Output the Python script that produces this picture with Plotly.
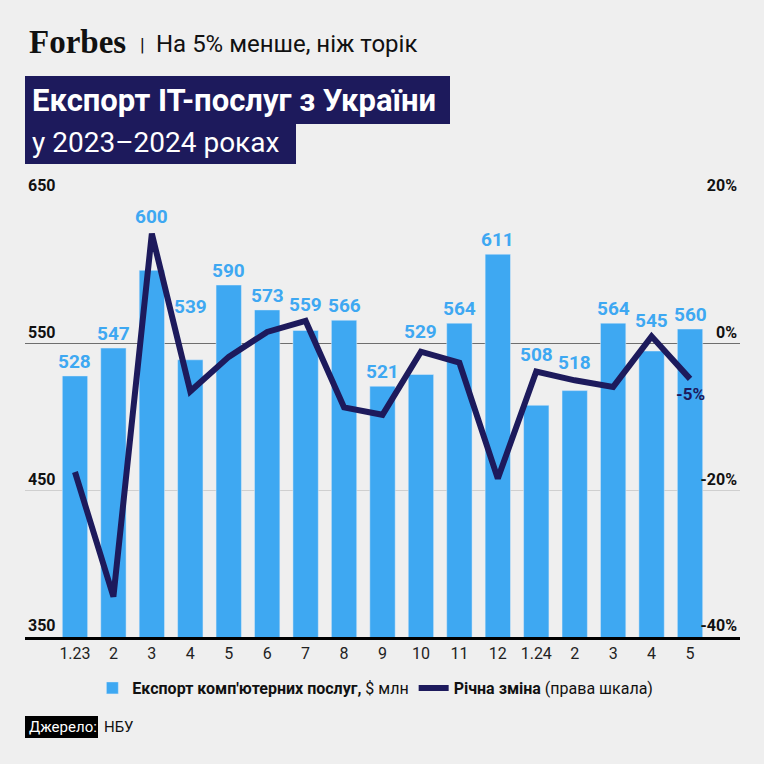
import plotly.graph_objects as go

# Експорт IT-послуг з України, 2023-2024
months = ["1.23", "2", "3", "4", "5", "6", "7", "8", "9", "10", "11", "12",
          "1.24", "2", "3", "4", "5"]
export_musd = [528, 547, 600, 539, 590, 573, 559, 566, 521, 529, 564, 611,
               508, 518, 564, 545, 560]
yoy_change = [-17.5, -34.5, 15.0, -6.5, -1.8, 1.6, 3.1, -8.7, -9.7, -1.1, -2.6,
              -18.4, -3.8, -5.0, -5.9, 1.0, -4.8]
left_ticks = [350, 450, 550, 650]
right_ticks = [-40, -20, 0, 20]
right_ticktext = ["-40%", "-20%", "0%", "20%"]

# extra lift (px) for some bar labels so they clear the line
label_lift = [0, 0, 39, 39, 0, 0, 11, 0, 0, 28, 0, 0, 36, 14, 0, 16, 0]

BLUE = "#3ea8f2"
NAVY = "#1d1a5c"
BG = "#efefef"
FONT = "Roboto, sans-serif"

# plot area in pixels (for the decorations around it)
L, R, T, B = 25, 740, 197, 637


def px(x):
    return (x - L) / (R - L)


def py(y):
    return (B - y) / (B - T)


def note(x, y, text, size, color="#111111", family=FONT):
    fig.add_annotation(xref="paper", yref="paper", x=px(x), y=py(y), text=text,
                       showarrow=False, xanchor="left", yanchor="middle",
                       font=dict(family=family, size=size, color=color))


xpos = list(range(len(months)))

fig = go.Figure()
fig.add_trace(go.Bar(
    x=xpos, y=export_musd, marker_color=BLUE, width=0.66,
    name="<b>Експорт комп'ютерних послуг,</b> $ млн",
))
fig.add_trace(go.Scatter(
    x=xpos, y=yoy_change, yaxis="y2", mode="lines",
    line=dict(color=NAVY, width=6),
    name="<b>Річна зміна</b> (права шкала)",
))

for i, v, lift in zip(xpos, export_musd, label_lift):
    fig.add_annotation(x=i, y=v, text=f"<b>{v}</b>", showarrow=False,
                       yanchor="bottom", yshift=1 + lift,
                       font=dict(family=FONT, size=19, color=BLUE))

fig.add_annotation(x=xpos[-1], y=yoy_change[-1], yref="y2", text="<b>-5%</b>",
                   showarrow=False, yanchor="top", yshift=-3,
                   font=dict(family=FONT, size=17, color=NAVY))

# header
note(27, 42, "<b>Forbes</b>", 33, family="Liberation Serif")
note(138, 44, "|", 19)
note(154, 44, "На 5% менше, ніж торік", 24)

# title boxes
fig.add_shape(type="rect", xref="paper", yref="paper", x0=px(25), x1=px(450),
              y0=py(124), y1=py(76), fillcolor=NAVY, line_width=0, layer="below")
fig.add_shape(type="rect", xref="paper", yref="paper", x0=px(25), x1=px(296),
              y0=py(164), y1=py(123), fillcolor=NAVY, line_width=0, layer="below")
note(30, 100, "<b>Експорт IT-послуг з України</b>", 31, color="white")
note(30, 142, "у 2023–2024 роках", 28, color="white")

# source
fig.add_shape(type="rect", xref="paper", yref="paper", x0=px(25), x1=px(98),
              y0=py(738), y1=py(716), fillcolor="black", line_width=0)
note(27, 727, "Джерело:", 15, color="white")
note(102, 727, "НБУ", 15)

fig.update_layout(
    width=764, height=764,
    margin=dict(l=L, r=764 - R, t=T, b=764 - B),
    paper_bgcolor=BG, plot_bgcolor=BG,
    font=dict(family=FONT, size=16, color="#222222"),
    showlegend=True,
    legend=dict(orientation="h", x=0.49, xanchor="center", y=py(688),
                yanchor="middle", font=dict(size=16, color="#111111"),
                bgcolor="rgba(0,0,0,0)", itemwidth=30),
    xaxis=dict(range=[-1.3, len(months) - 1 + 1.3],
               tickvals=xpos, ticktext=months,
               showline=True, linecolor="black", linewidth=2.5,
               ticks="", showgrid=False, zeroline=False,
               tickfont=dict(size=16, color="#222222")),
    yaxis=dict(range=[350, 650], tickvals=left_ticks,
               ticktext=[f"<b>{t}</b>" for t in left_ticks],
               ticklabelposition="inside top", ticklabeloverflow="allow",
               gridcolor="#cfcfcf", gridwidth=1, zeroline=False,
               tickfont=dict(size=16, color="#111111"), ticks=""),
    yaxis2=dict(overlaying="y", side="right", range=[-40, 20],
                tickvals=right_ticks,
                ticktext=["<b>" + t + "</b>" for t in right_ticktext],
                ticklabelposition="inside top", ticklabeloverflow="allow",
                showgrid=False, zeroline=True, zerolinecolor="#6e6e6e",
                zerolinewidth=1.2, tickfont=dict(size=16, color="#111111"),
                ticks=""),
)

fig.write_html("out.html", config={"displayModeBar": False},
               post_script="document.body.style.margin='0';")
